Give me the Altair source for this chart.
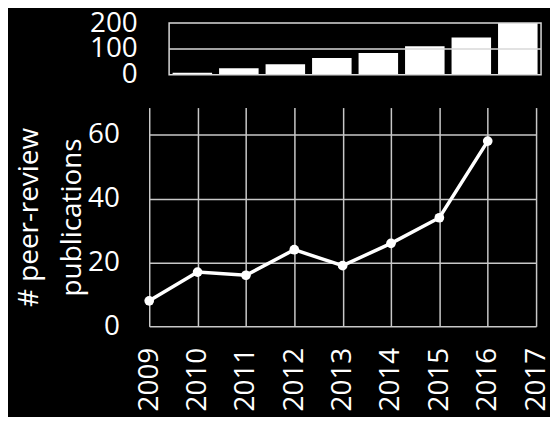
import altair as alt
import pandas as pd

years = [2009, 2010, 2011, 2012, 2013, 2014, 2015, 2016]
publications = [8, 17, 16, 24, 19, 26, 34, 58]
cumulative = [8, 25, 41, 65, 84, 110, 144, 202]
year_ticks = [2009, 2010, 2011, 2012, 2013, 2014, 2015, 2016, 2017]
pub_ticks = [0, 20, 40, 60]
cum_ticks = [0, 100, 200]
y_title = ["# peer-review", "publications"]

df = pd.DataFrame({"year": years, "pubs": publications, "cum": cumulative})
# frame of the small cumulative panel, in data units (0..200, 100 gridline)
box = pd.DataFrame({"left": [0], "right": [1], "lo": [cum_ticks[0]],
                    "hi": [cum_ticks[2]], "mid": [cum_ticks[1]]})

FONT = "Open Sans"
GRID = "#c8c8c8"
FRAME = "#d9d9d9"
TOP_W = 394
TOP_OFF = 20

top_y_scale = alt.Scale(domain=[0, 200], clamp=True, nice=False)
top_y_axis = alt.Axis(values=cum_ticks, title=None, grid=False, domain=False,
                      ticks=False, tickSize=0, labelPadding=12,
                      labelOverlap=False)
helper_x = alt.Scale(domain=[0, 1], range=[TOP_OFF, TOP_W])

bars = alt.Chart(df).mark_bar(color="white").encode(
    x=alt.X("year:O", axis=None,
            scale=alt.Scale(range=[TOP_OFF, TOP_W], paddingInner=0.15,
                            paddingOuter=0.075)),
    y=alt.Y("cum:Q", scale=top_y_scale, axis=top_y_axis),
)
frame = alt.Chart(box).mark_rect(fill="transparent", stroke=FRAME,
                                 strokeWidth=1.5).encode(
    x=alt.X("left:Q", scale=helper_x, axis=None),
    x2="right:Q",
    y=alt.Y("lo:Q", scale=top_y_scale, axis=top_y_axis),
    y2="hi:Q",
)
midline = alt.Chart(box).mark_rule(color=FRAME, strokeWidth=1.5).encode(
    x=alt.X("left:Q", scale=helper_x, axis=None),
    x2="right:Q",
    y=alt.Y("mid:Q", scale=top_y_scale, axis=top_y_axis),
)
top = alt.layer(bars, midline, frame).resolve_scale(
    x="independent").properties(width=TOP_W, height=52)

base = alt.Chart(df).encode(
    x=alt.X("year:Q",
            scale=alt.Scale(domain=[2009, 2017], nice=False, zero=False),
            axis=alt.Axis(values=year_ticks, format="d", labelAngle=270,
                          labelPadding=21, grid=True, gridColor=GRID,
                          gridWidth=1.5, domain=False, ticks=False,
                          tickSize=0, title=None, labelOverlap=False)),
    y=alt.Y("pubs:Q",
            scale=alt.Scale(domain=[0, 68.5], nice=False),
            axis=alt.Axis(values=pub_ticks, title=y_title, titlePadding=1,
                          grid=True, gridColor=GRID, gridWidth=1.5,
                          domain=False, ticks=False, tickSize=0,
                          labelPadding=30, labelOverlap=False)),
)
line = base.mark_line(color="white", strokeWidth=3.5)
pts = base.mark_circle(color="white", size=95, opacity=1)
bottom = alt.layer(line, pts).properties(width=389, height=220)

chart = alt.vconcat(top, bottom, spacing=19).properties(
    padding={"left": 7, "top": 0, "right": 0, "bottom": 4}
).configure(
    background="black", font=FONT
).configure_view(
    strokeOpacity=0
).configure_axis(
    labelFont=FONT, labelFontSize=28, labelColor="white",
    titleFont=FONT, titleFontSize=28, titleColor="white",
    titleFontWeight="normal", titleLineHeight=43,
)

chart.save("out.html", embed_options={"renderer": "svg", "actions": False})
